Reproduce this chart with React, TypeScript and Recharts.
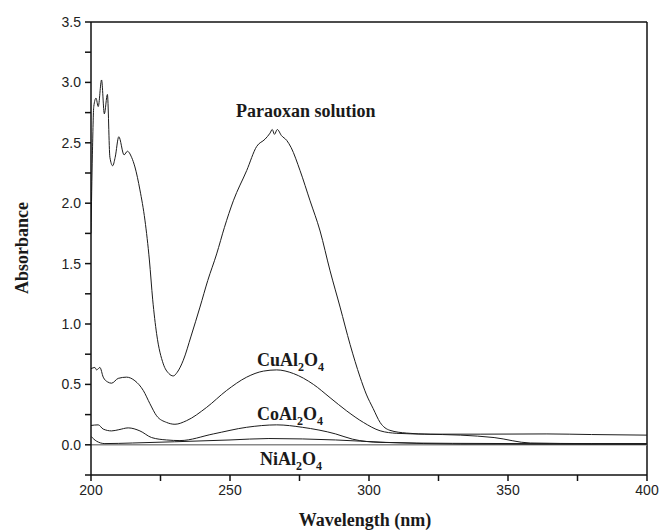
import { LineChart, Line, XAxis, YAxis, ReferenceLine, Customized } from "recharts";

// wavelength (nm) / absorbance pairs
const paraoxanWl = [200, 200.5, 201, 201.8, 202.6, 203.8, 204.8, 205.9, 206.8, 207.8, 208.7, 210, 211.9, 213.1, 214.6, 215.8, 217.6, 219.4, 221, 222.2, 223.6, 226, 228, 229.6, 231, 233.2, 236, 239.2, 242, 245.2, 248, 251.2, 256, 259.6, 262.6, 264.4, 265.2, 266, 267, 268.5, 270.4, 272, 275.2, 278.8, 282.4, 286, 289.6, 293.2, 296.8, 299, 301.5, 304, 307.5, 313.5, 322, 340, 364, 380, 400];
const paraoxanAbs = [1.75, 2.4, 2.8, 2.87, 2.8, 3.02, 2.74, 2.9, 2.38, 2.31, 2.38, 2.55, 2.4, 2.43, 2.38, 2.3, 2.11, 1.86, 1.53, 1.2, 0.92, 0.67, 0.59, 0.57, 0.6, 0.7, 0.9, 1.14, 1.36, 1.58, 1.8, 2.02, 2.27, 2.47, 2.53, 2.58, 2.61, 2.57, 2.61, 2.56, 2.52, 2.46, 2.27, 2.02, 1.77, 1.44, 1.14, 0.83, 0.56, 0.42, 0.3, 0.185, 0.12, 0.097, 0.088, 0.088, 0.09, 0.085, 0.08];

const cuWl = [200, 201.4, 202, 203.2, 204.4, 206, 207.4, 209.8, 212.8, 215.8, 218.8, 221.2, 223.6, 227.2, 230.2, 234.4, 241.6, 248.8, 256, 262, 266.8, 272.8, 280, 286, 292, 298, 304, 310, 320, 333, 345, 358, 380, 400];
const cuAbs = [0.63, 0.64, 0.62, 0.64, 0.56, 0.52, 0.51, 0.55, 0.56, 0.53, 0.45, 0.34, 0.24, 0.185, 0.17, 0.2, 0.31, 0.45, 0.56, 0.61, 0.62, 0.59, 0.5, 0.39, 0.28, 0.185, 0.116, 0.095, 0.088, 0.08, 0.06, 0.015, 0.01, 0.01];

const coWl = [200, 202.6, 204.4, 207.4, 210, 213.4, 217.6, 221.8, 227.2, 232, 244, 256, 266.8, 276, 288, 294, 304, 330, 400];
const coAbs = [0.16, 0.165, 0.13, 0.115, 0.125, 0.14, 0.115, 0.06, 0.04, 0.035, 0.09, 0.145, 0.165, 0.145, 0.09, 0.047, 0.02, 0.012, 0.008];

const niWl = [200, 202, 205, 215, 230, 250, 264, 288, 306, 333, 400];
const niAbs = [0.07, 0.03, 0.01, 0.015, 0.025, 0.04, 0.052, 0.04, 0.02, 0.006, 0.004];

const xTicks = [200, 225, 250, 275, 300, 325, 350, 375, 400];
const yTicks = [-0.25, 0, 0.25, 0.5, 0.75, 1, 1.25, 1.5, 1.75, 2, 2.25, 2.5, 2.75, 3, 3.25, 3.5];

const toPoints = (wl: number[], abs: number[]) => wl.map((w, i) => ({ wl: w, abs: abs[i] }));

const serif = "'Liberation Serif', 'Times New Roman', serif";
const sans = "'Liberation Sans', Arial, sans-serif";
const tick = { fill: "#222", fontSize: 14, fontFamily: sans };
const lineColor = "#1c1c1c";

function SubLabel({ x, y, base, sub1, mid, sub2 }: { x: number; y: number; base: string; sub1: string; mid: string; sub2: string }) {
  return (
    <text x={x} y={y} fontFamily={serif} fontWeight="bold" fontSize={18} fill="#1a1a1a">
      {base}
      <tspan fontSize={12} dy={5}>{sub1}</tspan>
      <tspan dy={-5}>{mid}</tspan>
      <tspan fontSize={12} dy={5}>{sub2}</tspan>
    </text>
  );
}

function Annotations() {
  return (
    <g>
      <text x={236} y={117} fontFamily={serif} fontWeight="bold" fontSize={18} fill="#1a1a1a">Paraoxan solution</text>
      <SubLabel x={257} y={366} base="CuAl" sub1="2" mid="O" sub2="4" />
      <SubLabel x={257} y={420} base="CoAl" sub1="2" mid="O" sub2="4" />
      <SubLabel x={260} y={465} base="NiAl" sub1="2" mid="O" sub2="4" />
      <text x={365} y={526} textAnchor="middle" fontFamily={serif} fontWeight="bold" fontSize={18} fill="#1a1a1a">Wavelength (nm)</text>
      <text x={28} y={248} textAnchor="middle" transform="rotate(-90 28 248)" fontFamily={serif} fontWeight="bold" fontSize={18} fill="#1a1a1a">Absorbance</text>
    </g>
  );
}

export default function App() {
  return (
    <div style={{ position: "absolute", left: 0, top: 0, background: "#fff" }}>
      <LineChart width={662} height={531} margin={{ top: 22, right: 15, bottom: 26, left: 0 }}>
        <XAxis
          dataKey="wl"
          type="number"
          domain={[200, 400]}
          ticks={xTicks}
          interval={0}
          allowDataOverflow
          tickFormatter={(v: number) => (v % 50 === 0 ? String(v) : "")}
          tick={tick}
          tickSize={6}
          tickMargin={4}
          height={30}
          stroke="#111"
          strokeWidth={1.5}
        />
        <YAxis
          type="number"
          domain={[-0.25, 3.5]}
          ticks={yTicks}
          interval={0}
          allowDataOverflow
          tickFormatter={(v: number) => (Math.abs(v * 2 - Math.round(v * 2)) < 1e-6 ? v.toFixed(1) : "")}
          tick={tick}
          tickSize={6}
          tickMargin={4}
          width={91}
          stroke="#111"
          strokeWidth={1.5}
        />
        <ReferenceLine y={3.5} stroke="#111" strokeWidth={1.5} />
        <ReferenceLine x={400} stroke="#111" strokeWidth={1.5} />
        <ReferenceLine y={0} stroke="#8a8a8a" strokeWidth={1.5} />
        <Line data={toPoints(niWl, niAbs)} dataKey="abs" type="monotone" stroke={lineColor} strokeWidth={1} dot={false} isAnimationActive={false} />
        <Line data={toPoints(coWl, coAbs)} dataKey="abs" type="monotone" stroke={lineColor} strokeWidth={1} dot={false} isAnimationActive={false} />
        <Line data={toPoints(cuWl, cuAbs)} dataKey="abs" type="monotone" stroke={lineColor} strokeWidth={1} dot={false} isAnimationActive={false} />
        <Line data={toPoints(paraoxanWl, paraoxanAbs)} dataKey="abs" type="monotone" stroke={lineColor} strokeWidth={1} dot={false} isAnimationActive={false} />
        <Customized component={Annotations} />
      </LineChart>
    </div>
  );
}
